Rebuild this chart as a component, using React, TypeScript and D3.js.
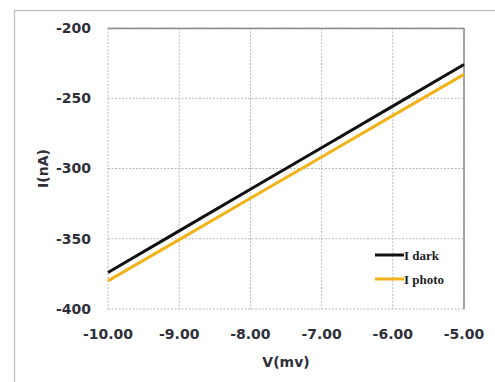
import { useEffect, useRef } from "react";
import * as d3 from "d3";

// values
const voltage = [-10, -9, -8, -7, -6, -5];
const iDark = [-374, -344.4, -314.8, -285.2, -255.6, -226];
const iPhoto = [-380, -350.6, -321.2, -291.8, -262.4, -233];
const xTicks = [-10, -9, -8, -7, -6, -5];
const yTicks = [-200, -250, -300, -350, -400];
const seriesNames = ["I dark", "I photo"];
const seriesColors = ["#111111", "#f2b318"];

const W = 495;
const H = 382;
const margin = { left: 108, top: 28, right: 31, bottom: 73 };

export default function App() {
  const svgRef = useRef<SVGSVGElement | null>(null);

  useEffect(() => {
    const svg = d3.select(svgRef.current);
    svg.selectAll("*").remove();

    const innerW = W - margin.left - margin.right;
    const innerH = H - margin.top - margin.bottom;

    const x = d3.scaleLinear().domain([-10, -5]).range([0, innerW]);
    const y = d3.scaleLinear().domain([-400, -200]).range([innerH, 0]);

    svg.append("rect").attr("width", W).attr("height", H).attr("fill", "#fff");

    // outer chart frame (only left and top edges fall inside the picture)
    svg.append("rect")
      .attr("x", 14.5).attr("y", 10.5)
      .attr("width", W + 20).attr("height", H + 20)
      .attr("fill", "none").attr("stroke", "#bdbdbd").attr("stroke-width", 1.2);

    const g = svg.append("g").attr("transform", `translate(${margin.left},${margin.top})`);

    // dotted grid
    g.append("g").selectAll("line").data(xTicks).join("line")
      .attr("x1", d => x(d)).attr("x2", d => x(d))
      .attr("y1", 0).attr("y2", innerH)
      .attr("stroke", "#b8b8b8").attr("stroke-dasharray", "2,1.5").attr("stroke-width", 1);
    g.append("g").selectAll("line").data(yTicks).join("line")
      .attr("x1", 0).attr("x2", innerW)
      .attr("y1", d => y(d)).attr("y2", d => y(d))
      .attr("stroke", "#b8b8b8").attr("stroke-dasharray", "2,1.5").attr("stroke-width", 1);

    // top and right plot border, solid
    g.append("path")
      .attr("d", `M0,0.5H${innerW}V${innerH}`)
      .attr("fill", "none").attr("stroke", "#8c8c8c").attr("stroke-width", 1.5);

    const fontAxis = "'DejaVu Sans', sans-serif";

    // y tick labels
    g.append("g").selectAll("text").data(yTicks).join("text")
      .attr("x", -17).attr("y", d => y(d)).attr("dy", "0.35em")
      .attr("text-anchor", "end")
      .attr("font-family", fontAxis).attr("font-weight", "bold").attr("font-size", 14)
      .attr("fill", "#2f2f3a")
      .text(d => d.toString());

    // x tick labels
    g.append("g").selectAll("text").data(xTicks).join("text")
      .attr("x", d => x(d)).attr("y", innerH + 30)
      .attr("text-anchor", "middle")
      .attr("font-family", fontAxis).attr("font-weight", "bold").attr("font-size", 14)
      .attr("fill", "#2f2f3a")
      .text(d => d.toFixed(2));

    // axis titles
    g.append("text")
      .attr("x", innerW / 2).attr("y", innerH + 58)
      .attr("text-anchor", "middle")
      .attr("font-family", fontAxis).attr("font-weight", "bold").attr("font-size", 14)
      .attr("fill", "#2f2f3a")
      .text("V(mv)");
    g.append("text")
      .attr("transform", `translate(${43 - margin.left},${innerH / 2}) rotate(-90)`)
      .attr("text-anchor", "middle").attr("dy", "0.35em")
      .attr("font-family", fontAxis).attr("font-weight", "bold").attr("font-size", 14)
      .attr("fill", "#2f2f3a")
      .text("I(nA)");

    // series lines
    const line = d3.line<[number, number]>().x(d => x(d[0])).y(d => y(d[1]));
    [iDark, iPhoto].forEach((vals, i) => {
      g.append("path")
        .datum(voltage.map((v, k) => [v, vals[k]] as [number, number]))
        .attr("d", line)
        .attr("fill", "none")
        .attr("stroke", seriesColors[i])
        .attr("stroke-width", 3);
    });

    // legend
    const lg = g.append("g").attr("transform", `translate(${375 - margin.left},${255 - margin.top})`);
    seriesNames.forEach((name, i) => {
      const row = lg.append("g").attr("transform", `translate(0,${i * 24})`);
      row.append("line").attr("x1", 0).attr("x2", 29).attr("y1", 0).attr("y2", 0)
        .attr("stroke", seriesColors[i]).attr("stroke-width", 3);
      row.append("text").attr("x", 29).attr("dy", "0.35em")
        .attr("font-family", "'Liberation Serif', serif").attr("font-weight", "bold")
        .attr("font-size", 13).attr("fill", "#222")
        .text(name);
    });
  }, []);

  return (
    <div style={{ position: "absolute", left: 0, top: 0 }}>
      <svg ref={svgRef} width={W} height={H} style={{ display: "block" }} />
    </div>
  );
}
